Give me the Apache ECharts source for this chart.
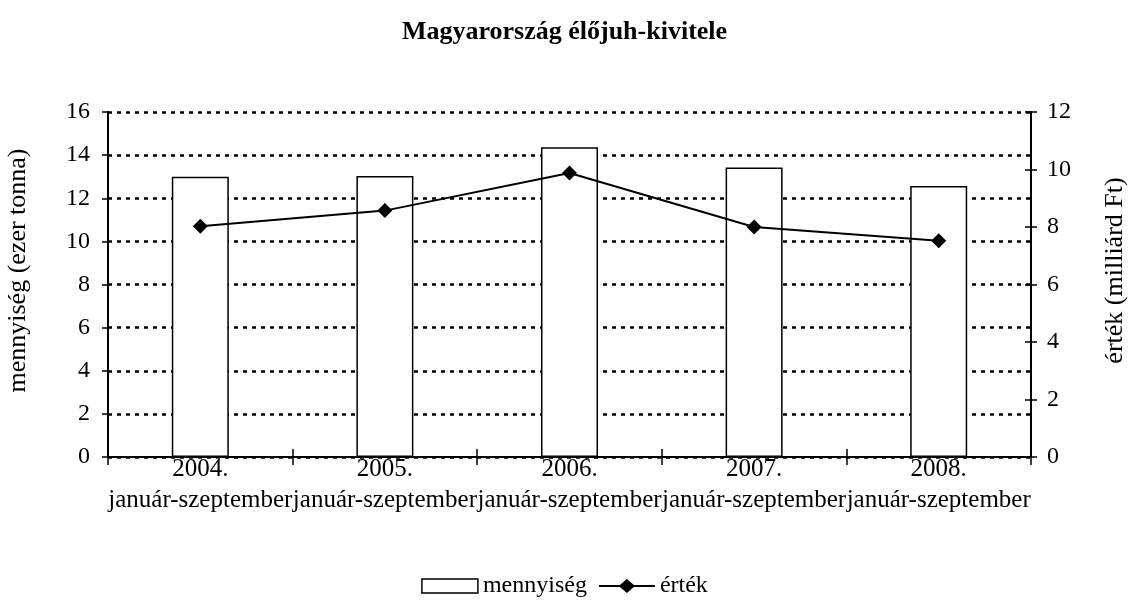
<!DOCTYPE html>
<html><head><meta charset="utf-8">
<script src="https://cdn.jsdelivr.net/npm/echarts@6/dist/echarts.min.js"></script>
<style>html,body{margin:0;padding:0;background:#fff}#c{width:1129px;height:603px}</style>
</head><body><div id="c"></div>
<script>
const title = 'Magyarország élőjuh-kivitele';
const categories = ['2004.\njanuár-szeptember','2005.\njanuár-szeptember','2006.\njanuár-szeptember','2007.\njanuár-szeptember','2008.\njanuár-szeptember'];
const mennyiseg = [13.0, 13.03, 14.37, 13.43, 12.57];
const ertek = [8.03, 8.57, 9.88, 8.0, 7.52];
const leftName = 'mennyiség (ezer tonna)';
const rightName = 'érték (milliárd Ft)';
const seriesNames = ['mennyiség', 'érték'];

const F = 'Liberation Serif, Times New Roman, serif';
const chart = echarts.init(document.getElementById('c'));
const diamond = 'path://M0,-1L1,0L0,1L-1,0Z';
const lineDiamondIcon = 'path://M0,6H21L28,0L35,6H56V8H35L28,14L21,8H0Z';
chart.setOption({
  animation: false,
  backgroundColor: '#fff',
  title: { text: title, left: 'center', top: 14, textStyle: { fontFamily: F, fontSize: 26, fontWeight: 'bold', color: '#000' } },
  grid: { left: 108, right: 98, top: 112, bottom: 146, containLabel: false, outerBoundsMode: 'none' },
  legend: {
    bottom: 0, left: 'center', itemGap: 12,
    textStyle: { fontFamily: F, fontSize: 24, color: '#000' },
    data: [
      { name: seriesNames[0], icon: 'rect', itemStyle: { color: '#fff', borderColor: '#000', borderWidth: 1.5 } },
      { name: seriesNames[1], icon: lineDiamondIcon, itemStyle: { color: '#000', borderWidth: 0 } }
    ],
    itemWidth: 56, itemHeight: 14
  },
  xAxis: [{
    type: 'category', data: categories, position: 'bottom',
    axisLine: { lineStyle: { color: '#000', width: 2 } },
    axisTick: { show: true, length: 8, lineStyle: { color: '#000', width: 1.5 } },
    axisLabel: { interval: 0, hideOverlap: false, fontFamily: F, fontSize: 25, color: '#000', lineHeight: 31, margin: -3 },
    splitLine: { show: false }
  }, {
    type: 'category', data: categories, position: 'bottom',
    axisLine: { show: false },
    axisTick: { show: true, inside: true, length: 8, lineStyle: { color: '#000', width: 1.5 } },
    axisLabel: { show: false }, splitLine: { show: false }
  }],
  yAxis: [{
    type: 'value', min: 0, max: 16, interval: 2, position: 'left',
    name: leftName, nameLocation: 'middle', nameRotate: 90, nameGap: 77,
    nameTextStyle: { fontFamily: F, fontSize: 26, color: '#000', padding: [0, 0, 0, 28] },
    axisLine: { show: true, lineStyle: { color: '#000', width: 2 } },
    axisTick: { show: true, length: 6, lineStyle: { color: '#000', width: 1.5 } },
    axisLabel: { fontFamily: F, fontSize: 24, color: '#000', margin: 18 },
    splitLine: { show: true, lineStyle: { color: '#000', width: 2.5, type: [4, 5] } }
  }, {
    type: 'value', min: 0, max: 12, interval: 2, position: 'right',
    name: rightName, nameLocation: 'middle', nameRotate: 90, nameGap: 71,
    nameTextStyle: { fontFamily: F, fontSize: 26, color: '#000', padding: [0, 0, 0, 28] },
    axisLine: { show: true, lineStyle: { color: '#000', width: 2 } },
    axisTick: { show: true, length: 6, lineStyle: { color: '#000', width: 1.5 } },
    axisLabel: { fontFamily: F, fontSize: 24, color: '#000', margin: 16 },
    splitLine: { show: false }
  }, {
    type: 'value', min: 0, max: 12, interval: 2, position: 'right',
    axisLine: { show: false },
    axisTick: { show: true, inside: true, length: 6, lineStyle: { color: '#000', width: 1.5 } },
    axisLabel: { show: false }, splitLine: { show: false }
  }],
  series: [{
    name: seriesNames[0], type: 'bar', data: mennyiseg, xAxisIndex: 0, yAxisIndex: 0,
    barWidth: 57,
    itemStyle: { color: '#fff', borderColor: '#000', borderWidth: 1.5 }
  }, {
    name: seriesNames[1], type: 'line', data: ertek, xAxisIndex: 0, yAxisIndex: 1,
    symbol: diamond, symbolSize: 15,
    lineStyle: { color: '#000', width: 2 },
    itemStyle: { color: '#000' }
  }]
});
</script></body></html>
